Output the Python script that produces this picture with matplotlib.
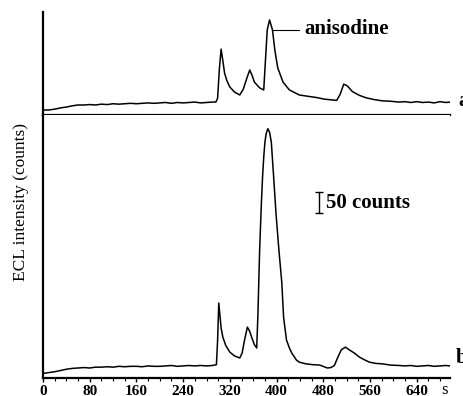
import matplotlib
matplotlib.use("Agg")
import matplotlib.pyplot as plt
from matplotlib.ticker import MultipleLocator

plt.rcParams["font.family"] = ["Liberation Serif", "DejaVu Serif"]

# trace a (standard), time in s, ECL intensity in counts
a_time = [0, 10, 20, 30, 40, 50, 60, 70, 80, 90, 100, 110, 120, 130, 140,
          150, 160, 170, 180, 190, 200, 210, 220, 230, 240, 250, 260, 270, 280, 290,
          296, 299, 302, 305, 308, 311, 315, 320, 328, 337,
          343, 349, 354, 358, 362, 371, 378,
          381, 384, 388, 393, 397, 402, 411, 422, 439, 453, 468, 482, 496, 503,
          509, 515, 521, 530, 542, 554, 567, 581, 595,
          610, 620, 630, 640, 650, 660, 670, 680, 690, 697]
a_counts = [12, 12, 14, 17, 19, 22, 24, 24, 25, 24, 26, 25, 27, 26, 27,
            28, 27, 28, 29, 28, 29, 30, 28, 30, 29, 30, 31, 29, 30, 31,
            31, 40, 110, 158, 130, 100, 82, 67, 55, 48,
            62, 88, 108, 95, 79, 65, 60,
            132, 204, 228, 204, 156, 113, 79, 60, 48, 45, 42, 38, 36, 35,
            50, 74, 70, 56, 47, 41, 37, 34, 33,
            31, 32, 30, 32, 30, 31, 29, 32, 30, 31]

# trace b (sample)
b_time = [0, 10, 20, 30, 40, 50, 60, 70, 80, 90, 100, 110, 120, 130, 140,
          150, 160, 170, 180, 190, 200, 210, 220, 230, 240, 250, 260, 270, 280, 290,
          297, 299, 301, 303, 305, 308, 313, 320, 328, 337,
          341, 345, 350, 354, 358, 362, 366,
          368, 371, 374, 376, 378, 380, 382, 385, 388, 391, 395, 399, 404, 409, 412,
          417, 422, 426, 434, 439,
          450, 462, 474, 487, 493, 499, 505, 511, 518, 525, 533, 542, 550, 559, 570, 581,
          595, 610, 620, 630, 640, 650, 660, 670, 680, 690, 697]
b_counts = [11, 13, 15, 18, 21, 23, 24, 25, 24, 26, 26, 27, 26, 28, 27,
            28, 28, 27, 29, 28, 28, 29, 30, 28, 29, 30, 29, 30, 29, 30,
            32, 90, 180, 150, 120, 98, 78, 62, 53, 48,
            60, 90, 122, 112, 95, 80, 72,
            150, 307, 420, 482, 530, 565, 585, 598, 590, 566, 482, 395, 307, 228, 146,
            91, 72, 60, 43, 38,
            34, 32, 31, 24, 25, 30, 50, 68, 74, 67, 60, 50, 44, 38, 35, 34,
            31, 30, 29, 30, 28, 29, 30, 28, 29, 30, 29]

xticks = [0, 80, 160, 240, 320, 400, 480, 560, 640]

W, H = 463, 396
fig = plt.figure(figsize=(W / 100, H / 100), dpi=100)
left, right = 43 / W, 450 / W
ax_a = fig.add_axes([left, 1 - 115 / H, right - left, (115 - 12) / H])
ax_b = fig.add_axes([left, 1 - 378 / H, right - left, (378 - 115) / H])

ax_a.plot(a_time, a_counts, color="black", lw=1.1)
ax_b.plot(b_time, b_counts, color="black", lw=1.1)

for ax in (ax_a, ax_b):
    ax.set_xlim(0, 697)
    for s in ("top", "right"):
        ax.spines[s].set_visible(False)
    ax.spines["left"].set_linewidth(1.6)
    ax.spines["bottom"].set_linewidth(1.6)
    ax.set_yticks([])
    ax.xaxis.set_major_locator(MultipleLocator(80))
    ax.xaxis.set_minor_locator(MultipleLocator(20))
    ax.tick_params(axis="x", which="major", direction="out", length=3, width=1, pad=2)
    ax.tick_params(axis="x", which="minor", direction="out", length=2, width=0.8)

ax_a.set_ylim(0, 247)
ax_b.set_ylim(0, 631)
ax_a.tick_params(axis="x", labelbottom=False)
ax_b.set_xticks(xticks)
ax_b.set_xticklabels([str(t) for t in xticks], fontsize=11, fontweight="bold")

# annotations
ax_a.plot([393, 439], [204, 204], color="black", lw=0.8)
ax_a.text(448, 206, "anisodine", fontsize=15, fontweight="bold", va="center", ha="left")
ax_a.text(711, 22, "a", fontsize=15, fontweight="bold", va="baseline", clip_on=False)
ax_b.text(706, 36, "b", fontsize=15, fontweight="bold", va="baseline", clip_on=False)

ax_b.errorbar([472], [421], yerr=25, color="black", lw=1, capsize=3, capthick=1)
ax_b.text(485, 420, "50 counts", fontsize=15, fontweight="bold", va="center", ha="left")

ax_b.text(687, -0.06, "s", transform=ax_b.get_xaxis_transform(),
          fontsize=12, va="baseline", ha="center")

fig.text(21 / W, 1 - 202 / H, "ECL intensity (counts)", rotation=90,
         fontsize=12.5, va="center", ha="center")

fig.savefig("out.png", dpi=100)
